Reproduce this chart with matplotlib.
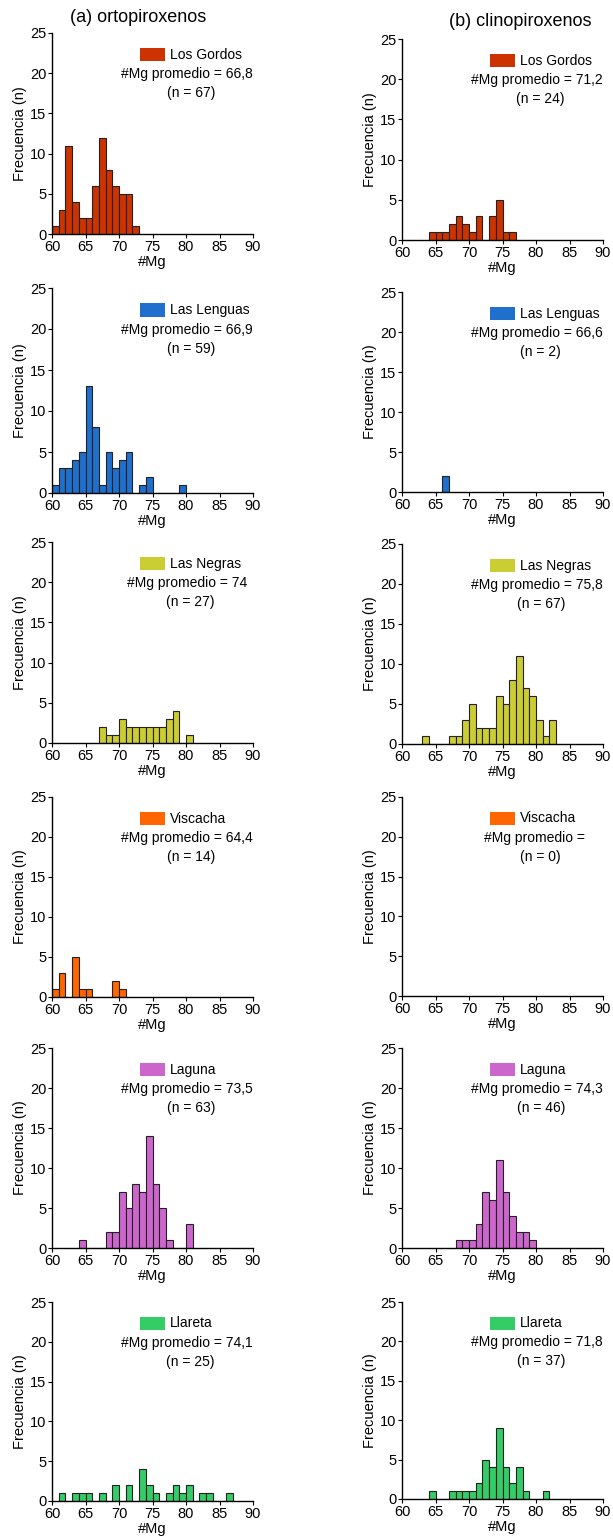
import numpy as np
import matplotlib.pyplot as plt
from matplotlib.patches import Rectangle

plt.rcParams['font.family'] = ['Liberation Sans', 'DejaVu Sans']

# Localities, colours and summary text
localities = ['Los Gordos', 'Las Lenguas', 'Las Negras', 'Viscacha', 'Laguna', 'Llareta']
colors = ['#cc3300', '#1f6fcc', '#cccc33', '#ff6600', '#cc66cc', '#33cc66']
opx_mean = ['66,8', '66,9', '74', '64,4', '73,5', '74,1']
opx_n = [67, 59, 27, 14, 63, 25]
cpx_mean = ['71,2', '66,6', '75,8', '', '74,3', '71,8']
cpx_n = [24, 2, 67, 0, 46, 37]

# Histogram counts (1-unit #Mg bins), first bin start + counts
opx_start = [60, 60, 67, 60, 64, 61]
opx_counts = [
    [1, 3, 11, 4, 2, 2, 6, 12, 8, 6, 5, 5, 1],
    [1, 3, 3, 4, 5, 13, 8, 1, 5, 3, 4, 5, 0, 1, 2, 0, 0, 0, 0, 1],
    [2, 1, 1, 3, 2, 2, 2, 2, 2, 2, 3, 4, 0, 1],
    [1, 3, 0, 5, 1, 1, 0, 0, 0, 2, 1],
    [1, 0, 0, 0, 2, 2, 7, 5, 8, 7, 14, 8, 5, 1, 0, 0, 3],
    [1, 0, 1, 1, 1, 0, 1, 0, 2, 0, 2, 0, 4, 2, 1, 0, 1, 2, 1, 2, 0, 1, 1, 0, 0, 1],
]
cpx_start = [64, 66, 63, 60, 68, 64]
cpx_counts = [
    [1, 1, 1, 2, 3, 2, 1, 3, 0, 3, 5, 1, 1],
    [2],
    [1, 0, 0, 0, 1, 1, 3, 5, 2, 2, 2, 6, 5, 8, 11, 7, 6, 3, 1, 3],
    [],
    [1, 1, 1, 3, 7, 6, 11, 7, 4, 2, 2, 1],
    [1, 0, 0, 1, 1, 1, 1, 2, 5, 4, 9, 4, 2, 4, 1, 0, 0, 1],
]

W, H = 613, 1540
fig = plt.figure(figsize=(W / 100, H / 100), dpi=100)

# pixel positions of axes (x0, x1) and (y of 25, y of 0)
left_x = (52, 253)
right_x = (402, 603)
left_y = [(33, 234), (288, 493), (542, 743), (797, 997), (1048, 1248), (1302, 1501)]
right_y = [(39, 240), (292, 492), (544, 744), (797, 996), (1048, 1248), (1302, 1499)]


def make_axes(xs, ys):
    x0, x1 = xs
    yt, yb = ys
    return fig.add_axes([x0 / W, 1 - yb / H, (x1 - x0) / W, (yb - yt) / H])


def draw_panel(ax, start, counts, color, name, mean, n):
    edges = start + np.arange(len(counts))
    ax.bar(edges, counts, width=1, align='edge', color=color,
           edgecolor='#222222', linewidth=0.8)
    ax.set_xlim(60, 90)
    ax.set_ylim(0, 25)
    ax.set_xticks(range(60, 91, 5))
    ax.set_yticks(range(0, 26, 5))
    for s in ['top', 'right']:
        ax.spines[s].set_visible(False)
    for s in ['left', 'bottom']:
        ax.spines[s].set_linewidth(1.0)
    ax.tick_params(labelsize=10.5, length=3, width=0.8, pad=1)
    ax.set_xlabel('#Mg', fontsize=10.5, labelpad=1)
    ax.set_ylabel('Frecuencia (n)', fontsize=10.5, labelpad=2)
    ax.add_patch(Rectangle((0.44, 0.86), 0.12, 0.065, transform=ax.transAxes,
                           facecolor=color, edgecolor='none', clip_on=False))
    ax.text(0.585, 0.892, name, transform=ax.transAxes, fontsize=10,
            ha='left', va='center')
    ax.text(0.67, 0.795, '#Mg promedio = ' + mean, transform=ax.transAxes,
            fontsize=10, ha='center', va='center')
    ax.text(0.69, 0.70, '(n = %d)' % n, transform=ax.transAxes,
            fontsize=10, ha='center', va='center')


for i in range(6):
    axl = make_axes(left_x, left_y[i])
    draw_panel(axl, opx_start[i], opx_counts[i], colors[i], localities[i],
               opx_mean[i], opx_n[i])
    axr = make_axes(right_x, right_y[i])
    draw_panel(axr, cpx_start[i], cpx_counts[i], colors[i], localities[i],
               cpx_mean[i], cpx_n[i])

fig.text(138 / W, 1 - 18 / H, '(a) ortopiroxenos', fontsize=13, ha='center', va='center')
fig.text(520 / W, 1 - 22 / H, '(b) clinopiroxenos', fontsize=13, ha='center', va='center')

fig.savefig('out.png', dpi=100)
